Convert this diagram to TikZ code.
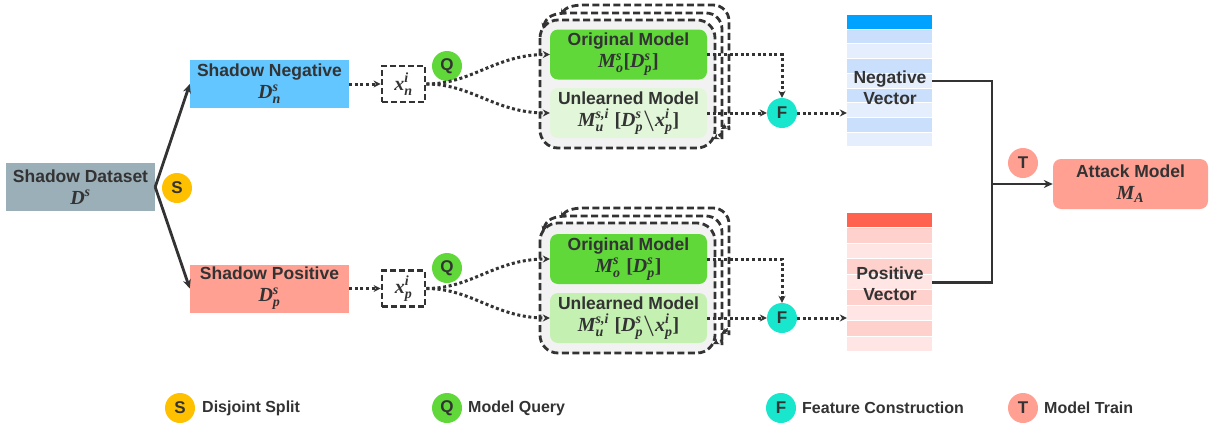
\documentclass[tikz,border=0pt]{standalone}
\usepackage{amsmath}
\usepackage{fontspec}
\setmainfont{Liberation Sans}
\newfontfamily\mserif{Liberation Serif}
\usetikzlibrary{arrows.meta,calc}
\definecolor{txt}{HTML}{333333}
\definecolor{lnc}{HTML}{333333}
\definecolor{sdgray}{HTML}{9BAFB9}
\definecolor{negblue}{HTML}{64C6FF}
\definecolor{possalmon}{HTML}{FFA093}
\definecolor{origgreen}{HTML}{60D83A}
\definecolor{unlA}{HTML}{E2F7D9}
\definecolor{unlB}{HTML}{C4F0B1}
\definecolor{framebg}{HTML}{F2F2F2}
\definecolor{sgold}{HTML}{FFC000}
\definecolor{fteal}{HTML}{18E6CD}
\definecolor{nbA}{HTML}{00A2FF}
\definecolor{nbB}{HTML}{CADFFC}
\definecolor{nbC}{HTML}{E4EEFD}
\definecolor{prA}{HTML}{FF624F}
\definecolor{prB}{HTML}{FFD1CD}
\definecolor{prC}{HTML}{FFE6E4}
\newcommand{\mv}[1]{\text{\mserif\bfseries\itshape #1}}
\newcommand{\mup}[1]{\text{\mserif\bfseries #1}}
\newcommand{\lgmath}[1]{{\fontsize{20}{22}\selectfont$#1$}}
\tikzset{
  lbl/.style={font=\fontsize{17.5}{22}\selectfont\bfseries, text=txt, align=center},
  databox/.style={lbl, minimum width=159pt, minimum height=48pt, inner sep=0pt},
  modelbox/.style={lbl, rounded corners=8pt, minimum width=157pt, minimum height=50pt, inner sep=0pt},
  xbox/.style={draw=lnc, line width=2.8pt, dash pattern=on 6pt off 3pt, fill=white, minimum width=43pt, minimum height=36pt, inner sep=0pt, font=\fontsize{20}{22}\selectfont, text=txt},
  circ/.style={circle, minimum size=30pt, inner sep=0pt, font=\fontsize{17}{17}\selectfont\bfseries, text=txt},
  solidarr/.style={draw=lnc, line width=2.8pt, -{Stealth[length=9pt,width=8pt]}},
  solidln/.style={draw=lnc, line width=2.8pt},
  dotarr/.style={draw=lnc, line width=3pt, dash pattern=on 3pt off 2.6pt, -{Stealth[length=7pt,width=7pt]}},
  frame/.style={draw=lnc, line width=2.8pt, dash pattern=on 7pt off 3.5pt},
  backframe/.style={frame, {Stealth[length=6pt,width=6pt]}-{Stealth[length=6pt,width=6pt]}},
  legtxt/.style={font=\fontsize{16}{18}\selectfont\bfseries, text=txt, anchor=west, inner sep=0pt},
}
\begin{document}
\begin{tikzpicture}[x=1pt,y=-1pt]
\useasboundingbox (0,0) rectangle (1213,426);
\fill[white] (0,0) rectangle (1213,426);

% data boxes
\node[databox, fill=sdgray, minimum width=149pt] (sd) at (80.5,187) {Shadow Dataset\\\lgmath{\mv{D}^{\mv{s}}}};
\node[databox, fill=negblue] (sneg) at (269.5,84) {Shadow Negative\\\lgmath{\mv{D}_{\mv{n}}^{\mv{s}}}};
\node[databox, fill=possalmon] (spos) at (269.5,288.5) {Shadow Positive\\\lgmath{\mv{D}_{\mv{p}}^{\mv{s}}}};
\node[circ, fill=sgold] (s) at (177,188) {S};

\draw[solidarr] (sd.east) -- (sneg.west);
\draw[solidarr] (sd.east) -- (spos.west);

% query inputs
\node[xbox] (xn) at (403.5,84) {$\mv{x}_{\mv{n}}^{\mv{i}}$};
\node[xbox] (xp) at (403.5,288.5) {$\mv{x}_{\mv{p}}^{\mv{i}}$};
\node[circ, fill=origgreen] (q1) at (447,66) {Q};
\node[circ, fill=origgreen] (q2) at (447,268) {Q};
\draw[dotarr] (sneg.east) -- (xn.west);
\draw[dotarr] (spos.east) -- (xp.west);

% ---------- upper model stack ----------
\draw[frame, fill=framebg, rounded corners=18pt] (540,20) rectangle (715,148);
\draw[backframe] (543,29) .. controls (546,17) and (553,13) .. (568,13) [rounded corners=16pt] -- (722,13) -- (722,124) [sharp corners] .. controls (722,131) and (719,136) .. (713,139);
\draw[backframe] (561,15) .. controls (565,8) and (572,5) .. (584,5) [rounded corners=16pt] -- (729,5) -- (729,114) [sharp corners] .. controls (729,121) and (726,126) .. (721,129);
\node[modelbox, fill=origgreen] (o1) at (628.5,54.5) {Original Model\\\lgmath{\mv{M}_{\mv{o}}^{\mv{s}}\mup{[}\mv{D}_{\mv{p}}^{\mv{s}}\mup{]}}};
\node[modelbox, fill=unlA] (u1) at (628.5,113) {Unlearned Model\\\lgmath{\mv{M}_{\mv{u}}^{\mv{s,i}}\ \mup{[}\mv{D}_{\mv{p}}^{\mv{s}}\boldsymbol{\backslash}\mv{x}_{\mv{p}}^{\mv{i}}\mup{]}}};

% ---------- lower model stack ----------
\draw[frame, fill=framebg, rounded corners=18pt] (540,223) rectangle (715,353);
\draw[backframe] (543,232) .. controls (546,220) and (553,216) .. (568,216) [rounded corners=16pt] -- (722,216) -- (722,329) [sharp corners] .. controls (722,336) and (719,341) .. (713,344);
\draw[backframe] (561,218) .. controls (565,211) and (572,208) .. (584,208) [rounded corners=16pt] -- (729,208) -- (729,319) [sharp corners] .. controls (729,326) and (726,331) .. (721,334);
\node[modelbox, fill=origgreen] (o2) at (628.5,259) {Original Model\\\lgmath{\mv{M}_{\mv{o}}^{\mv{s}}\ \mup{[}\mv{D}_{\mv{p}}^{\mv{s}}\mup{]}}};
\node[modelbox, fill=unlB] (u2) at (628.5,318) {Unlearned Model\\\lgmath{\mv{M}_{\mv{u}}^{\mv{s,i}}\ \mup{[}\mv{D}_{\mv{p}}^{\mv{s}}\boldsymbol{\backslash}\mv{x}_{\mv{p}}^{\mv{i}}\mup{]}}};

% query curves
\draw[dotarr] (xn.east) .. controls (472,84) and (495,54.5) .. (o1.west);
\draw[dotarr] (xn.east) .. controls (472,84) and (495,113) .. (u1.west);
\draw[dotarr] (xp.east) .. controls (472,288.5) and (495,259) .. (o2.west);
\draw[dotarr] (xp.east) .. controls (472,288.5) and (495,318) .. (u2.west);

% feature construction
\node[circ, fill=fteal] (f1) at (782,113) {F};
\node[circ, fill=fteal] (f2) at (782,318) {F};
\draw[dotarr] (o1.east) -| (f1.north);
\draw[dotarr] (u1.east) -- (f1.west);
\draw[dotarr] (o2.east) -| (f2.north);
\draw[dotarr] (u2.east) -- (f2.west);

% vectors
\foreach \i/\c in {0/nbA,1/nbB,2/nbC,3/nbB,4/nbC,5/nbB,6/nbC,7/nbB,8/nbC}{
  \fill[\c] (847,{15+\i*14.7}) rectangle (932,{15+\i*14.7+13.7});
}
\foreach \i/\c in {0/prA,1/prB,2/prC,3/prB,4/prC,5/prB,6/prC,7/prB,8/prC}{
  \fill[\c] (847,{213+\i*15.45}) rectangle (932,{213+\i*15.45+14.45});
}
\node[minimum width=85pt, minimum height=132pt, inner sep=0pt] (negvec) at (889.5,81) {};
\node[minimum width=85pt, minimum height=139pt, inner sep=0pt] (posvec) at (889.5,282.5) {};
\node[lbl, font=\fontsize{17.5}{21}\selectfont\bfseries] (negtxt) at (890,88) {Negative\\Vector};
\node[lbl, font=\fontsize{17.5}{21}\selectfont\bfseries] (postxt) at (890,284) {Positive\\Vector};
\draw[dotarr] (f1.east) -- (f1 -| negvec.west);
\draw[dotarr] (f2.east) -- (f2 -| posvec.west);

% attack model
\node[lbl, rounded corners=8pt, fill=possalmon, minimum width=155pt, minimum height=50pt, inner sep=0pt] (atk) at (1130.5,184) {Attack Model\\\lgmath{\mv{M}_{\mv{A}}}};
\coordinate (jn) at (992,184);
\draw[solidln] (negvec.east) -| (jn);
\draw[solidln] (posvec.east) -| (jn);
\draw[solidarr] (jn) -- (atk.west);
\node[circ, fill=possalmon] (t) at (1023,163) {T};

% legend
\node[circ, fill=sgold] (ls) at (180,408) {S};
\node[legtxt] (lst) at (202,408) {Disjoint Split};
\node[circ, fill=origgreen] (lq) at (447,408) {Q};
\node[legtxt] (lqt) at (468,408) {Model Query};
\node[circ, fill=fteal] (lf) at (781,408) {F};
\node[legtxt] (lft) at (802,408) {Feature Construction};
\node[circ, fill=possalmon] (lt) at (1023,408) {T};
\node[legtxt] (ltt) at (1044,408) {Model Train};
\end{tikzpicture}
\end{document}
